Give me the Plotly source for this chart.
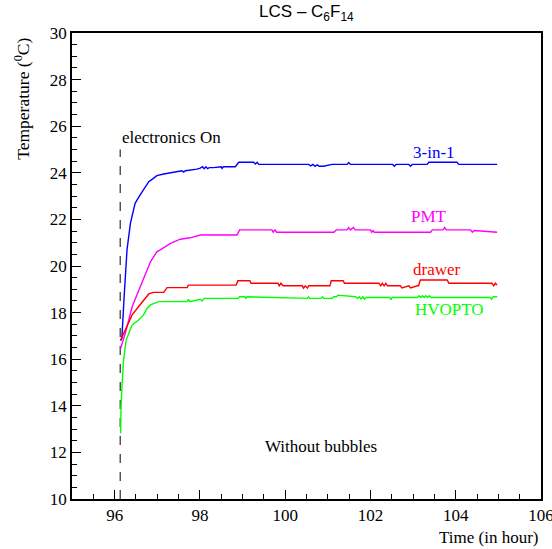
import plotly.graph_objects as go

# ---- data (time in hours, temperature in deg C) ----
t_blue = [96.14, 96.17, 96.22, 96.29, 96.37, 96.48, 96.58, 96.68, 96.80, 96.90, 96.99, 97.15, 97.35,
          97.58, 97.62, 97.66, 97.93, 98.01, 98.06, 98.10, 98.14, 98.18, 98.22, 98.32, 98.50, 98.52,
          98.55, 98.83, 98.91, 99.26, 99.30, 99.34, 99.38, 100.55, 100.60, 100.65, 100.70, 100.75,
          100.80, 100.90, 101.10, 101.45, 101.49, 101.53, 102.52, 102.56, 102.60, 102.90, 102.94,
          102.98, 103.33, 103.37, 104.03, 104.07, 104.97]
T_blue = [16.80, 16.90, 18.60, 20.69, 21.83, 22.69, 23.00, 23.26, 23.62, 23.75, 23.88, 23.95, 24.00,
          24.09, 24.03, 24.09, 24.16, 24.20, 24.26, 24.18, 24.26, 24.18, 24.22, 24.22, 24.26, 24.19,
          24.26, 24.26, 24.45, 24.45, 24.38, 24.45, 24.36, 24.36, 24.30, 24.36, 24.28, 24.34,
          24.28, 24.28, 24.36, 24.36, 24.44, 24.36, 24.36, 24.28, 24.36, 24.36, 24.28,
          24.36, 24.36, 24.45, 24.45, 24.36, 24.36]

t_pmt = [96.14, 96.25, 96.41, 96.52, 96.64, 96.76, 96.84, 96.99, 97.07, 97.31, 97.54, 97.77, 98.01,
         98.87, 98.93, 99.69, 99.72, 99.76, 99.80, 101.14, 101.20, 101.45, 101.49, 101.53, 101.60,
         101.64, 102.00, 102.03, 102.06, 102.09, 103.41, 103.45, 103.70, 103.74, 103.78, 104.35,
         104.39, 104.43, 104.97]
T_pmt = [16.47, 17.11, 18.25, 18.76, 19.26, 19.83, 20.18, 20.61, 20.69, 20.97, 21.15, 21.21, 21.33,
         21.33, 21.55, 21.55, 21.45, 21.55, 21.45, 21.45, 21.55, 21.55, 21.65, 21.55, 21.65,
         21.55, 21.55, 21.45, 21.52, 21.45, 21.45, 21.55, 21.55, 21.65, 21.55, 21.55,
         21.45, 21.52, 21.45]

t_drawer = [96.14, 96.25, 96.41, 96.56, 96.68, 96.80, 96.91, 97.15, 97.23, 97.70, 97.73, 98.24,
            98.85, 98.89, 99.17, 99.20, 99.83, 99.86, 99.90, 99.95, 100.10, 100.40, 100.43, 100.47,
            100.52, 100.55, 101.05, 101.08, 101.36, 101.39, 102.20, 102.24, 102.28, 102.32, 102.36,
            102.40, 102.70, 102.74, 102.90, 102.94, 103.10, 103.13, 103.17, 103.20, 103.80, 103.84,
            104.85, 104.89, 104.93, 104.97]
T_drawer = [16.82, 17.25, 17.90, 18.25, 18.54, 18.80, 18.87, 18.87, 19.07, 19.07, 19.18, 19.18,
            19.18, 19.37, 19.37, 19.26, 19.26, 19.15, 19.26, 19.15, 19.15, 19.15, 19.05, 19.15,
            19.05, 19.15, 19.15, 19.37, 19.37, 19.26, 19.26, 19.15, 19.26, 19.15, 19.26,
            19.15, 19.15, 19.06, 19.15, 19.06, 19.15, 19.15, 19.40, 19.40, 19.40, 19.26,
            19.26, 19.15, 19.26, 19.18]

t_hv = [96.14, 96.15, 96.18, 96.21, 96.27, 96.33, 96.41, 96.56, 96.68, 96.76, 96.84, 97.03, 97.70,
        97.73, 97.76, 98.01, 98.05, 98.10, 98.90, 98.93, 99.05, 99.08, 99.10, 100.52, 100.55,
        100.58, 100.85, 100.88, 100.91, 101.10, 101.14, 101.20, 101.24, 101.65, 101.70, 101.74,
        101.78, 101.82, 101.86, 101.90, 102.45, 102.48, 102.51, 103.10, 103.14, 103.18, 103.22,
        103.26, 103.30, 103.34, 103.38, 103.42, 104.80, 104.84, 104.88, 104.97]
T_hv = [12.82, 13.96, 15.10, 15.97, 16.82, 17.11, 17.47, 17.68, 17.90, 18.18, 18.33, 18.47, 18.47,
        18.57, 18.47, 18.57, 18.50, 18.61, 18.61, 18.68, 18.68, 18.61, 18.68, 18.61, 18.68,
        18.61, 18.61, 18.68, 18.61, 18.61, 18.68, 18.68, 18.75, 18.68, 18.61, 18.68,
        18.58, 18.68, 18.58, 18.65, 18.65, 18.55, 18.65, 18.65, 18.72, 18.65, 18.72,
        18.65, 18.72, 18.65, 18.72, 18.65, 18.65, 18.58, 18.68, 18.68]

t_on = [96.13, 96.13]
T_on = [10.0, 25.0]

x_ticks = [96, 98, 100, 102, 104, 106]
y_ticks = [10, 12, 14, 16, 18, 20, 22, 24, 26, 28, 30]

serif = "Liberation Serif, Times New Roman, serif"
sans = "Liberation Sans, Arial, sans-serif"

fig = go.Figure()
fig.add_trace(go.Scatter(x=t_on, y=T_on, mode="lines",
                         line=dict(color="black", width=1, dash="dash"), showlegend=False))
for tx, ty, col in [(t_blue, T_blue, "#0000ff"), (t_pmt, T_pmt, "#ff00ff"),
                    (t_drawer, T_drawer, "#ff0000"), (t_hv, T_hv, "#00ff00")]:
    fig.add_trace(go.Scatter(x=tx, y=ty, mode="lines", line=dict(color=col, width=1.4),
                             showlegend=False))

ann = [
    dict(x=103.48, y=24.89, text="3-in-1", color="#0000ff", xanchor="center"),
    dict(x=103.37, y=22.12, text="PMT", color="#ff00ff", xanchor="center"),
    dict(x=103.57, y=19.85, text="drawer", color="#ff0000", xanchor="center"),
    dict(x=103.85, y=18.12, text="HVOPTO", color="#00ff00", xanchor="center"),
    dict(x=96.13, y=25.5, text="electronics On", color="black", xanchor="left"),
    dict(x=100.83, y=12.25, text="Without bubbles", color="black", xanchor="center"),
]
for a in ann:
    fig.add_annotation(x=a["x"], y=a["y"], text=a["text"], showarrow=False, xanchor=a["xanchor"],
                       yanchor="middle", font=dict(family=serif, size=17, color=a["color"]))

fig.add_annotation(xref="paper", yref="paper", x=1.0, y=-0.058, text="Time (in hour)",
                   showarrow=False, xanchor="right", yanchor="top",
                   font=dict(family=serif, size=17, color="black"))
fig.add_annotation(xref="paper", yref="paper", x=-0.078, y=0.995, text="Temperature (<sup>0</sup>C)",
                   showarrow=False, xanchor="right", yanchor="top", textangle=-90,
                   font=dict(family=serif, size=17.5, color="black"))

fig.update_layout(
    width=552, height=549,
    margin=dict(l=72, r=11, t=33, b=50, autoexpand=False),
    paper_bgcolor="white", plot_bgcolor="white",
    title=dict(text="LCS \u2013 C<sub>6</sub>F<sub>14</sub>", x=0.555, xanchor="center",
               y=0.99, yanchor="top", font=dict(family=sans, size=17, color="black")),
    xaxis=dict(range=[95, 106], tickvals=x_ticks, ticks="inside", ticklen=9, tickcolor="black",
               showline=True, mirror=True, linecolor="black", linewidth=1.5, showgrid=False,
               zeroline=False, automargin=False, ticklabeloverflow="allow",
               tickfont=dict(family=serif, size=17, color="black"),
               minor=dict(dtick=0.5, tick0=95, ticks="inside", ticklen=5, tickcolor="black")),
    yaxis=dict(range=[10, 30], tickvals=y_ticks, ticks="inside", ticklen=9, tickcolor="black",
               showline=True, mirror=True, linecolor="black", linewidth=1.5, showgrid=False,
               zeroline=False, automargin=False, ticklabeloverflow="allow",
               tickfont=dict(family=serif, size=17, color="black"),
               minor=dict(dtick=0.5, tick0=10, ticks="inside", ticklen=5, tickcolor="black")),
)

fig.write_html("out.html", config={"displayModeBar": False},
               post_script="document.body.style.margin='0';document.body.style.overflow='hidden';")
